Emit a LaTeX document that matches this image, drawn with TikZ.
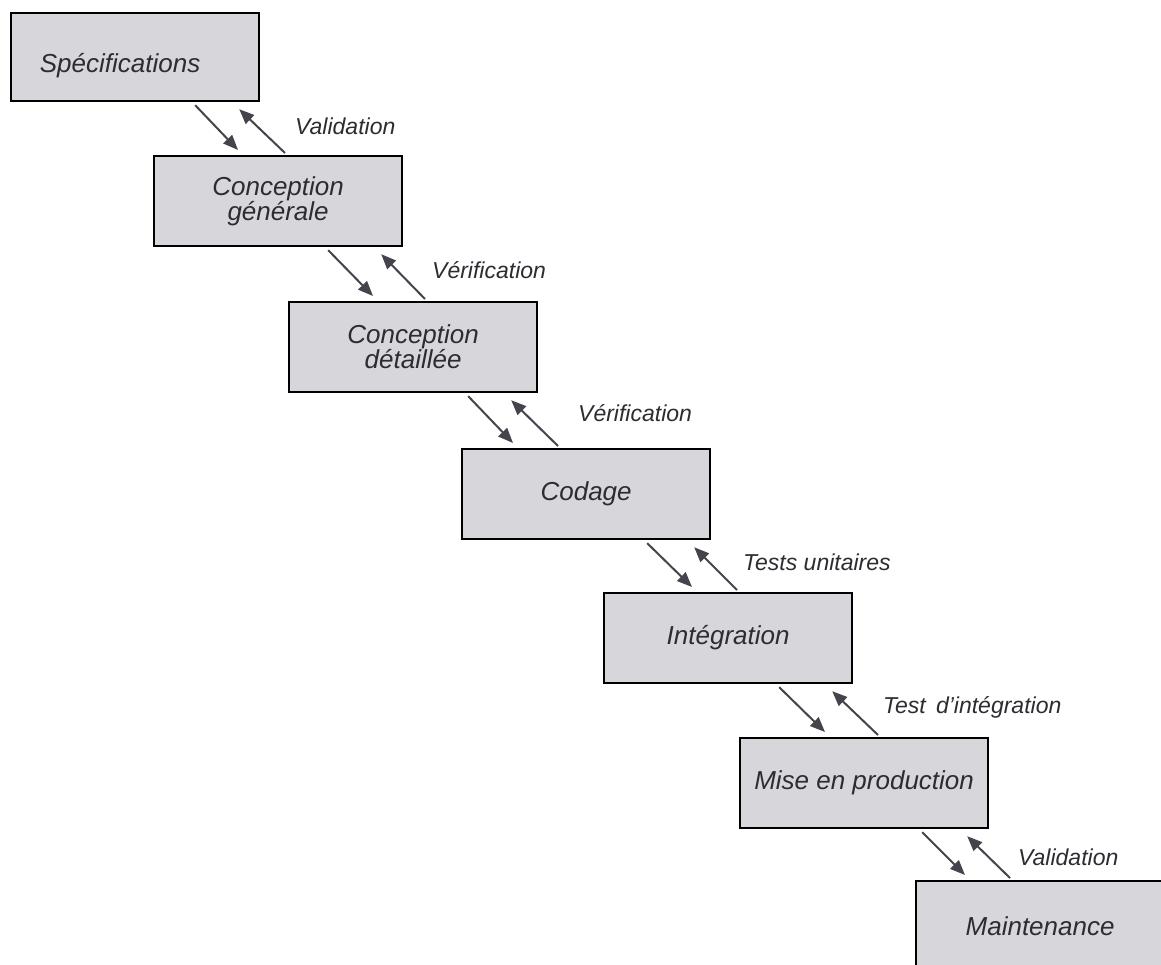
\documentclass[tikz,border=0pt]{standalone}
\usepackage{fontspec}
\setmainfont{Liberation Sans}
\usetikzlibrary{arrows.meta}
\definecolor{boxfill}{HTML}{D6D6DB}
\definecolor{inkgray}{HTML}{2C2C32}
\definecolor{arrowgray}{HTML}{44444C}
\begin{document}
\begin{tikzpicture}[x=1pt,y=-1pt,
  phase/.style={draw=black, line width=2.2pt, fill=boxfill, anchor=north west,
    minimum width=248pt, minimum height=90pt, inner sep=0pt, align=center,
    font=\fontsize{26}{25}\selectfont\itshape, text=inkgray},
  flow/.style={draw=arrowgray, line width=2pt,
    -{Triangle[length=15pt,width=12pt]}},
  tag/.style={anchor=west, inner sep=0pt,
    font=\fontsize{23}{24}\selectfont\itshape, text=inkgray}]
\useasboundingbox (0,0) rectangle (1161,965);
\fill[white] (0,0) rectangle (1161,965);

% phases of the waterfall
\node[phase, minimum height=88pt] (b1) at (10,12)
  {\hspace*{-30pt}\raisebox{-15pt}[0pt][0pt]{Spécifications}};
\node[phase] (b2) at (153,155) {Conception\\générale};
\node[phase] (b3) at (288,301) {Conception\\détaillée};
\node[phase] (b4) at (461,448) {Codage};
\node[phase] (b5) at (603,592) {Intégration};
\node[phase] (b6) at (739,737) {Mise en production};
\node[phase] (b7) at (915,880) {Maintenance};

% forward and feedback arrows between consecutive phases
\draw[flow] ([xshift=-65pt,yshift=-3pt]b1.south east) -- ([xshift=85pt,yshift=5pt]b2.north west);
\draw[flow] ([xshift=132pt,yshift=2pt]b2.north west) -- ([xshift=-21pt,yshift=-7pt]b1.south east);

\draw[flow] ([xshift=-75pt,yshift=-3pt]b2.south east) -- ([xshift=85pt,yshift=5pt]b3.north west);
\draw[flow] ([xshift=137pt,yshift=2pt]b3.north west) -- ([xshift=-22pt,yshift=-7pt]b2.south east);

\draw[flow] ([xshift=-70pt,yshift=-3pt]b3.south east) -- ([xshift=52pt,yshift=5pt]b4.north west);
\draw[flow] ([xshift=97pt,yshift=2pt]b4.north west) -- ([xshift=-27pt,yshift=-7pt]b3.south east);

\draw[flow] ([xshift=-64pt,yshift=-3pt]b4.south east) -- ([xshift=89pt,yshift=5pt]b5.north west);
\draw[flow] ([xshift=134pt,yshift=2pt]b5.north west) -- ([xshift=-17pt,yshift=-7pt]b4.south east);

\draw[flow] ([xshift=-74pt,yshift=-3pt]b5.south east) -- ([xshift=86pt,yshift=5pt]b6.north west);
\draw[flow] ([xshift=139pt,yshift=2pt]b6.north west) -- ([xshift=-21pt,yshift=-7pt]b5.south east);

\draw[flow] ([xshift=-67pt,yshift=-3pt]b6.south east) -- ([xshift=50pt,yshift=5pt]b7.north west);
\draw[flow] ([xshift=95pt,yshift=2pt]b7.north west) -- ([xshift=-22pt,yshift=-7pt]b6.south east);

% labels of the feedback steps
\node[tag] (l1) at (295,126) {Validation};
\node[tag] (l2) at (432,270) {Vérification};
\node[tag] (l3) at (578,413) {Vérification};
\node[tag] (l4) at (743,562) {Tests unitaires};
\node[tag] (l5) at (883,707) {Test\, d'intégration};
\node[tag] (l6) at (1018,857) {Validation};
\end{tikzpicture}
\end{document}
